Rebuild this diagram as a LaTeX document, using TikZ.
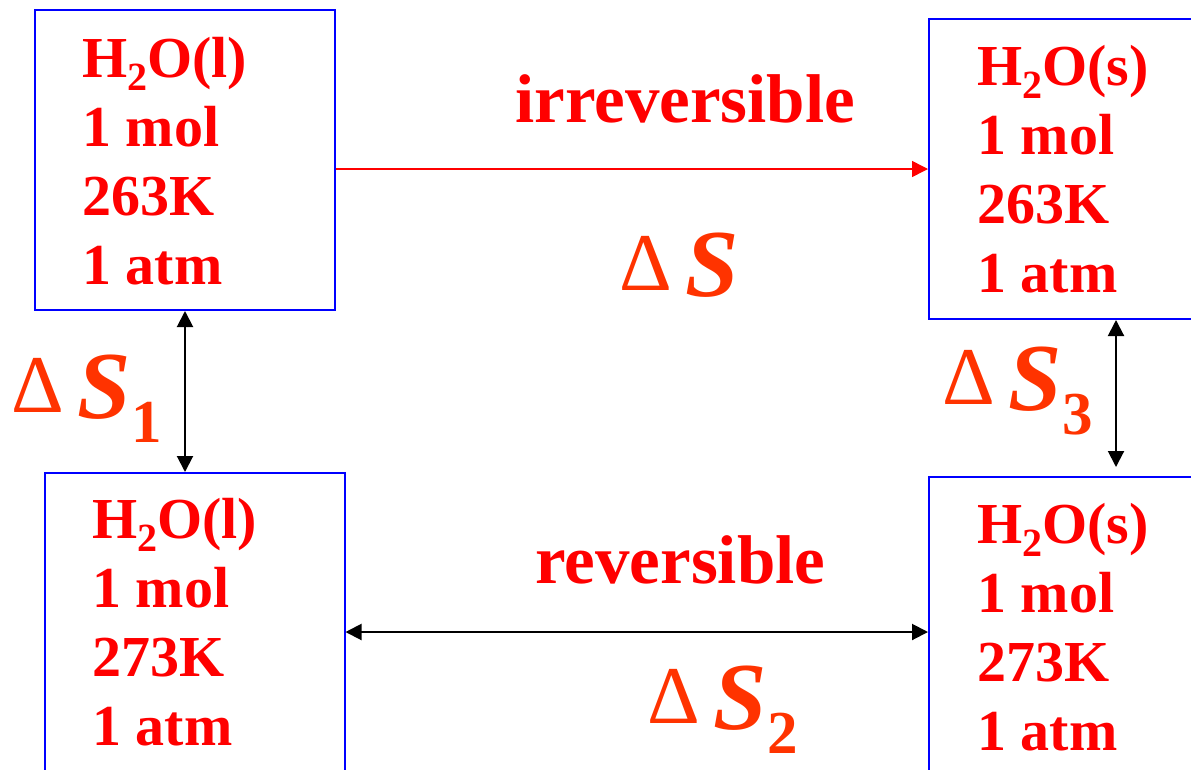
\documentclass[tikz,border=0pt]{standalone}
\usepackage{fontspec}
\setmainfont{Liberation Serif}[BoldFont={* Bold}, ItalicFont={* Italic}, BoldItalicFont={* Bold Italic}]
\newfontfamily\timesfont{Liberation Serif}[BoldFont={* Bold}, ItalicFont={* Italic}, BoldItalicFont={* Bold Italic}]
\usetikzlibrary{arrows.meta}
\definecolor{boxblue}{RGB}{0, 0, 255}
\definecolor{textred}{RGB}{255, 0, 0}
\definecolor{deltared}{RGB}{255, 51, 0}
\newcommand{\water}[1]{H\raisebox{-13pt}{\fontsize{40}{40}\selectfont 2}O(#1)}
\newcommand{\dent}[1]{\raisebox{6pt}{\fontsize{82}{82}\selectfont Δ}\hspace{14pt}{\fontsize{96}{96}\selectfont\bfseries\itshape S}\raisebox{-24pt}{\fontsize{61}{61}\selectfont\bfseries #1}}

\begin{document}
\begin{tikzpicture}[
    x=1pt, y=-1pt,
    state/.style={rectangle, draw=boxblue, line width=2pt, anchor=north west, inner sep=0pt, minimum width=300pt},
    statetext/.style={anchor=north west, inner sep=0pt, align=left, text=textred, font=\timesfont\fontsize{58}{69}\selectfont\bfseries},
    pathlabel/.style={anchor=base west, inner sep=0pt, text=textred, font=\timesfont\fontsize{69}{69}\selectfont\bfseries},
    entlabel/.style={anchor=base west, inner sep=0pt, text=deltared, font=\timesfont},
    irrarrow/.style={-{Triangle[length=16pt,width=16pt]}, draw=textred, fill=textred, line width=1.5pt},
    revarrow/.style={{Triangle[length=16pt,width=16pt]}-{Triangle[length=16pt,width=16pt]}, line width=2pt}
]
    \useasboundingbox (0,0) rectangle (1191,769);
    \clip (0,0) rectangle (1191,769);

    % the four states
    \node[state, minimum height=300pt] (liqA) at (34,9) {};
    \node[state, minimum height=300pt] (solA) at (928,18) {};
    \node[state, minimum height=318pt] (liqB) at (43.5,472) {};
    \node[state, minimum height=310pt] (solB) at (928,476) {};

    \node[statetext] (liqAtxt) at (82,37) {\water{l}\\1 mol\\263K\\1 atm};
    \node[statetext] (solAtxt) at (977,45) {\water{s}\\1 mol\\263K\\1 atm};
    \node[statetext] (liqBtxt) at (92,498) {\water{l}\\1 mol\\273K\\1 atm};
    \node[statetext] (solBtxt) at (977,503) {\water{s}\\1 mol\\273K\\1 atm};

    % paths
    \draw[irrarrow] (liqA.east |- solA.west) -- (solA.west);
    \draw[revarrow] (liqA.south) -- (liqB.north -| liqA.south);
    \draw[revarrow] ([xshift=37pt]solA.south) -- ([xshift=37pt, yshift=9pt]solB.north);
    \draw[revarrow] (liqB.east) -- (solB.west);

    \node[pathlabel] (irr) at (515,122) {irreversible};
    \node[pathlabel] (rev) at (535,583) {reversible};

    \node[entlabel] (dS) at (619,296) {\dent{}};
    \node[entlabel] (dS1) at (11,418) {\dent{1}};
    \node[entlabel] (dS3) at (942,410) {\dent{3}};
    \node[entlabel] (dS2) at (647,729) {\dent{2}};
\end{tikzpicture}
\end{document}
